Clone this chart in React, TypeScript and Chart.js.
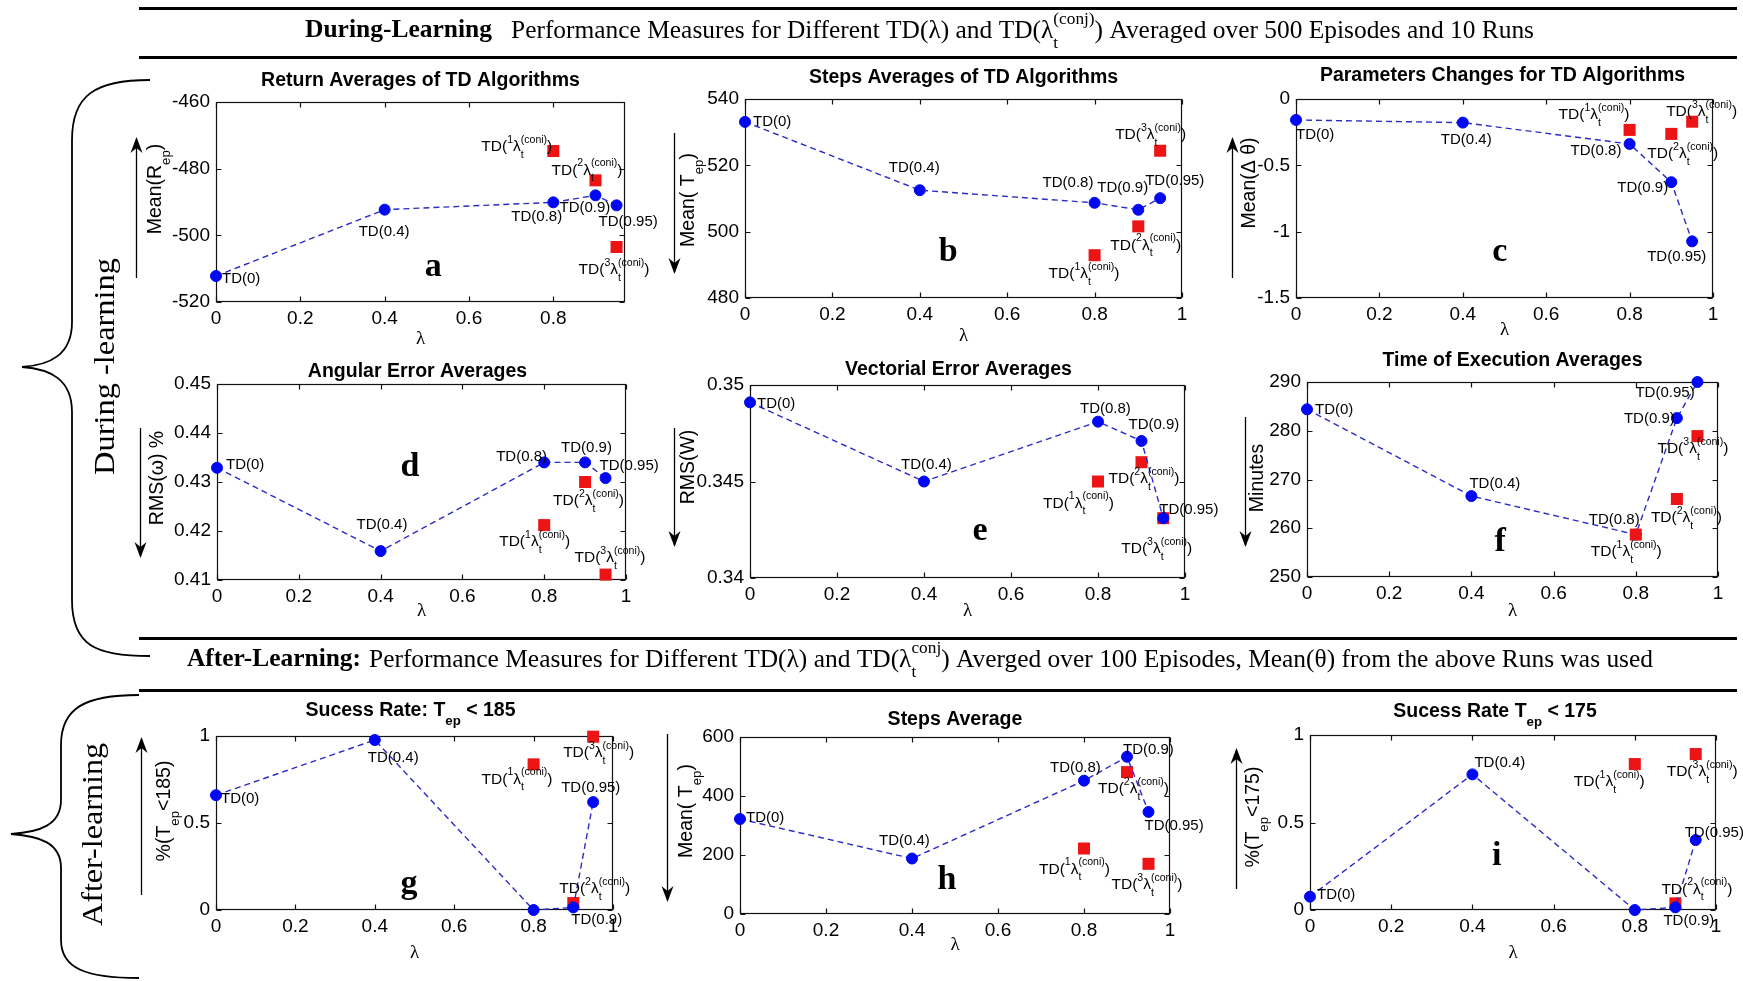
import React, { useEffect, useRef } from "react";
import { Chart, registerables } from "chart.js";
Chart.register(...registerables);

// ---------------- data ----------------
const LAMBDAS = [0, 0.4, 0.8, 0.9, 0.95];
const CONJ_LAMBDAS = [0.8, 0.9, 0.95];
const TD_NAMES = ["TD(0)", "TD(0.4)", "TD(0.8)", "TD(0.9)", "TD(0.95)"];
const CONJ_INDEX = ["1", "2", "3"];

// a: Return averages
const returnTD = [-512.2, -492.3, -490.1, -488.0, -491.0];
const returnConj = [-474.7, -483.5, -503.5];
// b: Steps averages (during learning)
const stepsTD = [533.1, 512.5, 508.7, 506.6, 510.1];
const stepsConj = [492.9, 501.6, 524.4];
// c: Parameter changes
const paramTD = [-0.158, -0.178, -0.339, -0.627, -1.073];
const paramConj = [-0.233, -0.263, -0.171];
// d: Angular error
const angularTD = [0.4329, 0.4159, 0.434, 0.434, 0.4308];
const angularConj = [0.4212, 0.43, 0.4111];
// e: Vectorial error
const vectorTD = [0.3491, 0.345, 0.3481, 0.3471, 0.3431];
const vectorConj = [0.345, 0.346, 0.3431];
// f: Time of execution
const timeTD = [284.4, 266.6, 258.7, 282.6, 290.0];
const timeConj = [258.7, 266.0, 278.9];
// g: Success rate < 185
const success185TD = [0.66, 0.977, 0, 0.015, 0.62];
const success185Conj = [0.837, 0.04, 0.996];
// h: Steps average (after learning)
const stepsAfterTD = [322, 188, 452, 533, 346];
const stepsAfterConj = [222, 481, 170];
// i: Success rate < 175
const success175TD = [0.076, 0.775, 0, 0.015, 0.4];
const success175Conj = [0.834, 0.038, 0.891];

// ---------------- styles ----------------
const FONT_SANS = "'Liberation Sans', Arial, sans-serif";
const FONT_NARROW = "'Liberation Sans Narrow', 'Liberation Sans', Arial, sans-serif";
const FONT_SERIF = "'Liberation Serif', 'Times New Roman', serif";
const BLUE = "#0008f2";
const LINE_BLUE = "#2b2bc8";
const RED = "#ec1414";
const TICK_SIZE = 19;
const LABEL_SIZE = 15;
const YLABEL_SIZE = 19.5;
const PAD = { l: 110, t: 50, r: 50, b: 60 };

type Seg = { t?: string; sup?: string; sub?: string };

function segWidth(ctx: CanvasRenderingContext2D, s: Seg, size: number, family: string, weight: string) {
  if (s.t !== undefined) {
    ctx.font = `${weight} ${size}px ${family}`;
    return ctx.measureText(s.t).width;
  }
  ctx.font = `${weight} ${size * 0.68}px ${family}`;
  return Math.max(s.sup ? ctx.measureText(s.sup).width : 0, s.sub ? ctx.measureText(s.sub).width : 0);
}
function richWidth(ctx: CanvasRenderingContext2D, segs: Seg[], size: number, family: string, weight: string) {
  let w = 0;
  for (const s of segs) w += segWidth(ctx, s, size, family, weight);
  return w;
}
function drawRich(ctx: CanvasRenderingContext2D, segs: Seg[], x: number, y: number, size: number, family: string, weight: string) {
  ctx.textBaseline = "middle";
  ctx.textAlign = "left";
  let cx = x;
  for (const s of segs) {
    const w = segWidth(ctx, s, size, family, weight);
    if (s.t !== undefined) ctx.fillText(s.t, cx, y);
    else {
      if (s.sup) ctx.fillText(s.sup, cx, y - size * 0.45);
      if (s.sub) ctx.fillText(s.sub, cx, y + size * 0.52);
    }
    cx += w;
  }
  return cx - x;
}
function conjSegs(k: string): Seg[] {
  return [{ t: "TD(" }, { sup: k }, { t: "λ" }, { sup: "(coni)", sub: "t" }, { t: ")" }];
}

type Off = [number, number] | null;
type PanelCfg = {
  key: string;
  area: [number, number, number, number];
  xMax: number;
  y: [number, number, number];
  td: number[];
  conj: number[];
  title: Seg[];
  titleDx: number;
  titleDy: number;
  yLabel: Seg[];
  yLabelDx: number;
  yLabelCy: number;
  arrow: { dx: number; y1: number; y2: number; up: boolean };
  letter: string;
  letterAt: [number, number];
  xLabelDy: number;
  tdOff: Off[];
  conjOff: Off[];
  redOnTop?: boolean;
};

const PANELS: PanelCfg[] = [
  {
    key: "a", area: [216, 102, 625, 302], xMax: 0.97, y: [-520, -460, 20], td: returnTD, conj: returnConj,
    title: [{ t: "Return Averages of TD Algorithms" }], titleDx: 0, titleDy: -21,
    yLabel: [{ t: "Mean(R" }, { sub: "ep" }, { t: ")" }], yLabelDx: -60, yLabelCy: 87,
    arrow: { dx: -80, y1: 37, y2: 176, up: true }, letter: "a", letterAt: [0.515, -509.5], xLabelDy: 37,
    tdOff: [[6, 3], [-26, 22], [-42, 15], [-36, 13], [-18, 17]],
    conjOff: [[-72, -4], [-44, -10], [-38, 23]],
  },
  {
    key: "b", area: [745, 99, 1182, 298], xMax: 1, y: [480, 540, 20], td: stepsTD, conj: stepsConj,
    title: [{ t: "Steps Averages of TD Algorithms" }], titleDx: 0, titleDy: -21,
    yLabel: [{ t: "Mean( T" }, { sub: "ep" }, { t: ")" }], yLabelDx: -56, yLabelCy: 101,
    arrow: { dx: -71, y1: 34, y2: 173, up: false }, letter: "b", letterAt: [0.465, 493.9], xLabelDy: 38,
    tdOff: [[8, 0], [-31, -22], [-52, -20], [-41, -22], [-15, -17]],
    conjOff: [[-46, 19], [-28, 19], [-45, -16]],
  },
  {
    key: "c", area: [1296, 99, 1713, 298], xMax: 1, y: [-1.5, 0, 0.5], td: paramTD, conj: paramConj,
    title: [{ t: "Parameters Changes for TD Algorithms" }], titleDx: -2, titleDy: -23,
    yLabel: [{ t: "Mean(Δ θ)" }], yLabelDx: -46, yLabelCy: 84,
    arrow: { dx: -64, y1: 40, y2: 179, up: true }, letter: "c", letterAt: [0.489, -1.153], xLabelDy: 32,
    tdOff: [[0, 15], [-22, 17], [-59, 7], [-54, 6], [-45, 16]],
    conjOff: [[-71, -15], [-24, 20], [-26, -10]],
  },
  {
    key: "d", area: [217, 384, 626, 580], xMax: 1, y: [0.41, 0.45, 0.01], td: angularTD, conj: angularConj,
    title: [{ t: "Angular Error Averages" }], titleDx: -4, titleDy: -12,
    yLabel: [{ t: "RMS(ω) %" }], yLabelDx: -59, yLabelCy: 94,
    arrow: { dx: -77, y1: 44, y2: 172, up: false }, letter: "d", letterAt: [0.472, 0.4331], xLabelDy: 31,
    tdOff: [[9, -3], [-24, -26], [-48, -6], [-24, -15], [-6, -12]],
    conjOff: [[-45, 17], [-32, 19], [-31, -17]],
  },
  {
    key: "e", area: [750, 385, 1185, 578], xMax: 1, y: [0.34, 0.35, 0.005], td: vectorTD, conj: vectorConj,
    title: [{ t: "Vectorial Error Averages" }], titleDx: -9, titleDy: -15,
    yLabel: [{ t: "RMS(W)" }], yLabelDx: -61, yLabelCy: 82,
    arrow: { dx: -76, y1: 43, y2: 160, up: false }, letter: "e", letterAt: [0.529, 0.3424], xLabelDy: 33,
    tdOff: [[7, 1], [-23, -17], [-18, -13], [-13, -16], [-4, -8]],
    conjOff: [[-55, 22], [-33, 17], [-42, 31]],
  },
  {
    key: "f", area: [1307, 382, 1718, 577], xMax: 1, y: [250, 290, 10], td: timeTD, conj: timeConj,
    title: [{ t: "Time of Execution Averages" }], titleDx: 0, titleDy: -21,
    yLabel: [{ t: "Minutes" }], yLabelDx: -49, yLabelCy: 96,
    arrow: { dx: -62, y1: 35, y2: 163, up: false }, letter: "f", letterAt: [0.47, 257.2], xLabelDy: 34,
    tdOff: [[8, 1], [-2, -12], [-47, -15], [-53, 1], [-62, 11]],
    conjOff: [[-45, 17], [-26, 19], [-40, 13]], redOnTop: true,
  },
  {
    key: "g", area: [216, 736, 613, 910], xMax: 1, y: [0, 1, 0.5], td: success185TD, conj: success185Conj,
    title: [{ t: "Sucess Rate: T" }, { sub: "ep" }, { t: " < 185" }], titleDx: -4, titleDy: -25,
    yLabel: [{ t: "%(T" }, { sub: "ep" }, { t: "<185)" }], yLabelDx: -51, yLabelCy: 75,
    arrow: { dx: -75, y1: 3, y2: 159, up: true }, letter: "g", letterAt: [0.486, 0.15], xLabelDy: 43,
    tdOff: [[5, 4], [-7, 18], null, [-2, 12], [-32, -14]],
    conjOff: [[-52, 15], [-14, -14], [-30, 16]],
  },
  {
    key: "h", area: [740, 737, 1170, 914], xMax: 1, y: [0, 600, 200], td: stepsAfterTD, conj: stepsAfterConj,
    title: [{ t: "Steps Average" }], titleDx: 0, titleDy: -17,
    yLabel: [{ t: "Mean( T" }, { sub: "ep" }, { t: ")" }], yLabelDx: -53, yLabelCy: 74,
    arrow: { dx: -73, y1: -3, y2: 163, up: false }, letter: "h", letterAt: [0.481, 115], xLabelDy: 31,
    tdOff: [[6, -1], [-33, -18], [-34, -13], [-4, -7], [-4, 14]],
    conjOff: [[-45, 21], [-29, 17], [-37, 21]],
  },
  {
    key: "i", area: [1310, 735, 1716, 910], xMax: 1, y: [0, 1, 0.5], td: success175TD, conj: success175Conj,
    title: [{ t: "Sucess Rate T" }, { sub: "ep" }, { t: " < 175" }], titleDx: -18, titleDy: -23,
    yLabel: [{ t: "%(T" }, { sub: "ep" }, { t: "<175)" }], yLabelDx: -56, yLabelCy: 82,
    arrow: { dx: -74, y1: 15, y2: 154, up: true }, letter: "i", letterAt: [0.46, 0.31], xLabelDy: 43,
    tdOff: [[7, -2], [2, -12], null, [-12, 13], [-11, -7]],
    conjOff: [[-61, 18], [-14, -14], [-29, 18]],
  },
];

const fmt = (v: any) => String(parseFloat(Number(v).toFixed(4)));

function drawArrow(ctx: CanvasRenderingContext2D, x: number, y1: number, y2: number, up: boolean) {
  ctx.save();
  ctx.strokeStyle = "#000";
  ctx.fillStyle = "#000";
  ctx.lineWidth = 1.3;
  ctx.beginPath();
  ctx.moveTo(x + 0.5, y1);
  ctx.lineTo(x + 0.5, y2);
  ctx.stroke();
  const tip = up ? y1 - 2 : y2 + 2;
  const dir = up ? 1 : -1;
  ctx.beginPath();
  ctx.moveTo(x + 0.5, tip);
  ctx.lineTo(x + 0.5 - 6, tip + dir * 16);
  ctx.lineTo(x + 0.5, tip + dir * 11);
  ctx.lineTo(x + 0.5 + 6, tip + dir * 16);
  ctx.closePath();
  ctx.fill();
  ctx.restore();
}

function panelPlugin(cfg: PanelCfg) {
  return {
    id: "panel_" + cfg.key,
    beforeDatasetsDraw(chart: any) {
      const { ctx, chartArea, scales } = chart;
      const l = Math.round(chartArea.left) + 0.5;
      const t = Math.round(chartArea.top) + 0.5;
      const r = Math.round(chartArea.right) - 0.5;
      const b = Math.round(chartArea.bottom) - 0.5;
      ctx.save();
      ctx.strokeStyle = "#111";
      ctx.lineWidth = 1.2;
      ctx.strokeRect(l, t, r - l, b - t);
      ctx.beginPath();
      for (const tk of scales.x.ticks) {
        const px = Math.round(scales.x.getPixelForValue(tk.value)) + 0.5;
        ctx.moveTo(px, b); ctx.lineTo(px, b - 5);
        ctx.moveTo(px, t); ctx.lineTo(px, t + 5);
      }
      for (const tk of scales.y.ticks) {
        const py = Math.round(scales.y.getPixelForValue(tk.value)) + 0.5;
        ctx.moveTo(l, py); ctx.lineTo(l + 5, py);
        ctx.moveTo(r, py); ctx.lineTo(r - 5, py);
      }
      ctx.stroke();
      ctx.restore();
    },
    afterDatasetsDraw(chart: any) {
      const { ctx, chartArea, scales } = chart;
      const xs = scales.x, ys = scales.y;
      ctx.save();
      ctx.fillStyle = "#000";
      // point labels
      cfg.td.forEach((v, i) => {
        const o = cfg.tdOff[i];
        if (!o) return;
        const px = xs.getPixelForValue(LAMBDAS[i]);
        const py = ys.getPixelForValue(v);
        drawRich(ctx, [{ t: TD_NAMES[i] }], px + o[0], py + o[1], LABEL_SIZE, FONT_NARROW, "normal");
      });
      cfg.conj.forEach((v, i) => {
        const o = cfg.conjOff[i];
        if (!o) return;
        const px = xs.getPixelForValue(CONJ_LAMBDAS[i]);
        const py = ys.getPixelForValue(v);
        drawRich(ctx, conjSegs(CONJ_INDEX[i]), px + o[0], py + o[1], LABEL_SIZE + 0.5, FONT_NARROW, "normal");
      });
      // panel letter
      ctx.font = `bold 34px ${FONT_SERIF}`;
      ctx.textAlign = "center";
      ctx.textBaseline = "middle";
      ctx.fillText(cfg.letter, xs.getPixelForValue(cfg.letterAt[0]), ys.getPixelForValue(cfg.letterAt[1]));
      // title
      const cx = (chartArea.left + chartArea.right) / 2;
      const tw = richWidth(ctx, cfg.title, 19.5, FONT_SANS, "bold");
      drawRich(ctx, cfg.title, cx + cfg.titleDx - tw / 2, chartArea.top + cfg.titleDy, 19.5, FONT_SANS, "bold");
      // x label
      ctx.font = `19px ${FONT_SERIF}`;
      ctx.textAlign = "center";
      ctx.textBaseline = "middle";
      ctx.fillText("λ", cx, chartArea.bottom + cfg.xLabelDy);
      // y label (rotated)
      ctx.save();
      ctx.translate(chartArea.left + cfg.yLabelDx, chartArea.top + cfg.yLabelCy);
      ctx.rotate(-Math.PI / 2);
      const yw = richWidth(ctx, cfg.yLabel, YLABEL_SIZE, FONT_SANS, "normal");
      drawRich(ctx, cfg.yLabel, -yw / 2, 0, YLABEL_SIZE, FONT_SANS, "normal");
      ctx.restore();
      // arrow
      drawArrow(ctx, chartArea.left + cfg.arrow.dx, chartArea.top + cfg.arrow.y1, chartArea.top + cfg.arrow.y2, cfg.arrow.up);
      ctx.restore();
    },
  };
}

function Panel({ cfg }: { cfg: PanelCfg }) {
  const ref = useRef<HTMLCanvasElement>(null);
  const [L, T, R, B] = cfg.area;
  const left = L - PAD.l;
  const top = T - PAD.t;
  const w = R - L + PAD.l + PAD.r;
  const h = B - T + PAD.t + PAD.b;
  useEffect(() => {
    const tdData = cfg.td.map((y, i) => ({ x: LAMBDAS[i], y }));
    const conjData = cfg.conj.map((y, i) => ({ x: CONJ_LAMBDAS[i], y }));
    const tickFont = { family: FONT_NARROW, size: TICK_SIZE };
    const chart = new Chart(ref.current as HTMLCanvasElement, {
      type: "scatter",
      data: {
        datasets: [
          {
            data: tdData, showLine: true, borderColor: LINE_BLUE, borderWidth: 1.4, borderDash: [6, 4],
            pointRadius: 5.5, pointBorderWidth: 1, pointBackgroundColor: BLUE, pointBorderColor: BLUE,
            clip: false, order: 1,
          } as any,
          {
            data: conjData, showLine: false, pointStyle: "rect", pointRadius: 8.5, pointBorderWidth: 0,
            pointBackgroundColor: RED, pointBorderColor: RED, clip: false, order: cfg.redOnTop ? 0 : 2,
          } as any,
        ],
      },
      options: {
        responsive: false,
        animation: false,
        devicePixelRatio: 1,
        events: [],
        layout: { padding: { left: 0, top: PAD.t, right: PAD.r, bottom: 0 } },
        plugins: { legend: { display: false }, tooltip: { enabled: false }, title: { display: false } },
        scales: {
          x: {
            type: "linear", min: 0, max: cfg.xMax,
            grid: { display: false, drawTicks: false }, border: { display: false },
            ticks: { stepSize: 0.2, includeBounds: false, autoSkip: false, maxRotation: 0, padding: 5, color: "#000", font: tickFont, callback: fmt },
            afterFit: (s: any) => { s.height = PAD.b; },
          },
          y: {
            type: "linear", min: cfg.y[0], max: cfg.y[1],
            grid: { display: false, drawTicks: false }, border: { display: false },
            ticks: { stepSize: cfg.y[2], autoSkip: false, padding: 6, color: "#000", font: tickFont, callback: fmt },
            afterFit: (s: any) => { s.width = PAD.l; },
          },
        },
      } as any,
      plugins: [panelPlugin(cfg)],
    });
    return () => chart.destroy();
  }, []);
  return <canvas ref={ref} width={w} height={h} style={{ position: "absolute", left, top, width: w, height: h }} />;
}

// ---------------- overlay: headers and braces ----------------
const HEADER_LINES = [8, 57, 638, 690];
const HEADER1_BOLD = "During-Learning";
const HEADER1_REST: Seg[] = [
  { t: "Performance Measures for Different TD(λ) and TD(λ" },
  { sup: "(conj)", sub: "t" },
  { t: ") Averaged over 500 Episodes and 10 Runs" },
];
const HEADER2_BOLD = "After-Learning:";
const HEADER2_REST: Seg[] = [
  { t: "Performance Measures for Different TD(λ) and TD(λ" },
  { sup: "conj", sub: "t" },
  { t: ") Averged over 100 Episodes, Mean(θ) from the above Runs was used" },
];
const SIDE1 = "During -learning";
const SIDE2 = "After-learning";

function fitRich(ctx: CanvasRenderingContext2D, segs: Seg[], x: number, y: number, width: number, size: number, weight: string) {
  const nat = richWidth(ctx, segs, size, FONT_SERIF, weight);
  ctx.save();
  ctx.translate(x, y);
  ctx.scale(width / nat, 1);
  drawRich(ctx, segs, 0, 0, size, FONT_SERIF, weight);
  ctx.restore();
}

function Overlay() {
  const ref = useRef<HTMLCanvasElement>(null);
  useEffect(() => {
    const ctx = (ref.current as HTMLCanvasElement).getContext("2d") as CanvasRenderingContext2D;
    ctx.clearRect(0, 0, 1743, 981);
    ctx.fillStyle = "#000";
    ctx.strokeStyle = "#000";
    // header rules
    ctx.lineWidth = 3;
    for (const y of HEADER_LINES) {
      ctx.beginPath();
      ctx.moveTo(139, y + 0.5);
      ctx.lineTo(1737, y + 0.5);
      ctx.stroke();
    }
    // header texts
    fitRich(ctx, [{ t: HEADER1_BOLD }], 305, 31, 187, 25, "bold");
    fitRich(ctx, HEADER1_REST, 511, 31, 1023, 25, "normal");
    fitRich(ctx, [{ t: HEADER2_BOLD }], 187, 660, 174, 25, "bold");
    fitRich(ctx, HEADER2_REST, 369, 660, 1284, 25, "normal");
    // braces
    ctx.lineWidth = 1.8;
    ctx.beginPath();
    ctx.moveTo(150, 80);
    ctx.bezierCurveTo(95, 80, 72, 95, 72, 140);
    ctx.lineTo(72, 322);
    ctx.bezierCurveTo(72, 355, 50, 365, 22, 367);
    ctx.bezierCurveTo(50, 369, 72, 379, 72, 412);
    ctx.lineTo(72, 600);
    ctx.bezierCurveTo(72, 645, 95, 656, 150, 656);
    ctx.stroke();
    ctx.beginPath();
    ctx.moveTo(139, 695);
    ctx.bezierCurveTo(85, 695, 61, 708, 61, 745);
    ctx.lineTo(61, 800);
    ctx.bezierCurveTo(61, 825, 40, 832, 11, 834);
    ctx.bezierCurveTo(40, 836, 61, 843, 61, 868);
    ctx.lineTo(61, 940);
    ctx.bezierCurveTo(61, 968, 85, 978, 139, 978);
    ctx.stroke();
    // side texts
    ctx.save();
    ctx.translate(106, 367);
    ctx.rotate(-Math.PI / 2);
    fitRich(ctx, [{ t: SIDE1 }], -108, 0, 217, 30, "normal");
    ctx.restore();
    ctx.save();
    ctx.translate(94, 834);
    ctx.rotate(-Math.PI / 2);
    fitRich(ctx, [{ t: SIDE2 }], -92, 0, 183, 30, "normal");
    ctx.restore();
  }, []);
  return <canvas ref={ref} width={1743} height={981} style={{ position: "absolute", left: 0, top: 0, width: 1743, height: 981 }} />;
}

export default function App() {
  return (
    <div style={{ position: "absolute", left: 0, top: 0, width: 1743, height: 981, overflow: "hidden", background: "#fff" }}>
      <Overlay />
      {PANELS.map((p) => (
        <Panel key={p.key} cfg={p} />
      ))}
    </div>
  );
}
